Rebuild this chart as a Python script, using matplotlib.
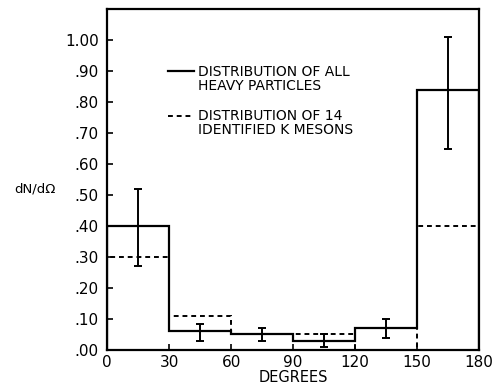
import numpy as np
import matplotlib.pyplot as plt
from matplotlib.lines import Line2D

# angular bins (degrees)
edges = [0, 30, 60, 90, 120, 150, 180]
centers = [15, 45, 75, 105, 135, 165]

# dN/dOmega for all heavy particles and for the 14 K mesons
all_heavy = [0.40, 0.06, 0.05, 0.03, 0.07, 0.84]
k_mesons = [0.30, 0.11, 0.05, 0.05, 0.00, 0.40]

# error bar limits on the heavy-particle histogram
err_low = [0.27, 0.03, 0.03, 0.01, 0.04, 0.65]
err_high = [0.52, 0.085, 0.07, 0.05, 0.10, 1.01]

yticks = [0.0, 0.1, 0.2, 0.3, 0.4, 0.5, 0.6, 0.7, 0.8, 0.9, 1.0]
ytick_labels = ['.00', '.10', '.20', '.30', '.40', '.50', '.60', '.70', '.80', '.90', '1.00']

plt.rcParams['font.family'] = 'DejaVu Sans'

W, H = 499, 386
fig = plt.figure(figsize=(W / 100, H / 100), dpi=100)
ax = fig.add_axes([0.2144, 0.0933, 0.746, 0.8827])

dash = (0, (2.5, 2))
ax.stairs(k_mesons, edges, baseline=0, color='black', lw=1.4, ls=dash)
ax.stairs(all_heavy, edges, baseline=0, color='black', lw=1.6)

y = np.array(all_heavy)
yerr = [y - np.array(err_low), np.array(err_high) - y]
ax.errorbar(centers, y, yerr=yerr, fmt='none', ecolor='black', elinewidth=1.4,
            capsize=3, capthick=1.4)

ax.set_xlim(0, 180)
ax.set_ylim(0, 1.10)
ax.set_xticks(edges)
ax.set_xticklabels(['0', '30', '60', '90', '120', '150', '180'], fontsize=11)
ax.set_yticks(yticks)
ax.set_yticklabels(ytick_labels, fontsize=11)
ax.tick_params(direction='in', length=4, width=1.2)
ax.tick_params(axis='y', pad=6)
for s in ax.spines.values():
    s.set_linewidth(1.6)

ax.set_xlabel('DEGREES', fontsize=10.5, labelpad=0)
fig.text(0.07, 0.51, 'dN/d\u03a9', fontsize=9.5, ha='center', va='center')

# legend drawn by hand, in pixel positions
def px(x, yy):
    return x / W, 1 - yy / H

for x0, yy, style in [(168, 70.5, '-'), (168, 116, dash)]:
    (a, b), (c, _) = px(x0, yy), px(x0 + 26, yy)
    fig.add_artist(Line2D([a, c], [b, b], color='black',
                          lw=1.6 if style == '-' else 1.4, ls=style))

legend_lines = [('DISTRIBUTION OF ALL', 75.5), ('HEAVY PARTICLES', 90.5),
                ('DISTRIBUTION OF 14', 120), ('IDENTIFIED K MESONS', 134)]
for txt, yy in legend_lines:
    fx, fy = px(198, yy)
    fig.text(fx, fy, txt, fontsize=10, ha='left', va='baseline')

fig.savefig('out.png', dpi=100)
